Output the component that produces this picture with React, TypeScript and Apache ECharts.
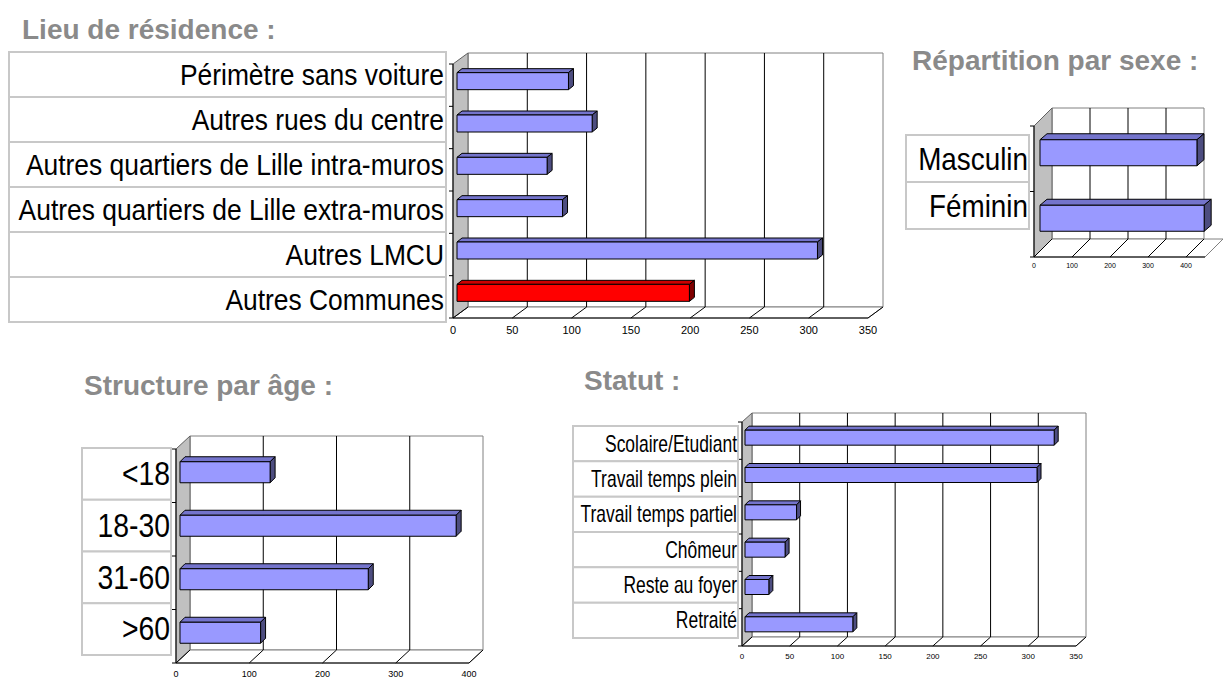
import React, { useEffect, useRef } from "react";
import * as echarts from "echarts";

// ---------- DATA ----------
const residenceCategories = [
  "Périmètre sans voiture",
  "Autres rues du centre",
  "Autres quartiers de Lille intra-muros",
  "Autres quartiers de Lille extra-muros",
  "Autres LMCU",
  "Autres Communes",
];
const residenceValues = [94, 114, 76, 89, 304, 196];
const residenceTicks = [0, 50, 100, 150, 200, 250, 300, 350];

const sexCategories = ["Masculin", "Féminin"];
const sexValues = [413, 432];
const sexTicks = [0, 100, 200, 300, 400];

const ageCategories = ["<18", "18-30", "31-60", ">60"];
const ageValues = [123, 377, 257, 110];
const ageTicks = [0, 100, 200, 300, 400];

const statusCategories = [
  "Scolaire/Etudiant",
  "Travail temps plein",
  "Travail temps partiel",
  "Chômeur",
  "Reste au foyer",
  "Retraité",
];
const statusValues = [324, 306, 54, 42, 25, 113];
const statusTicks = [0, 50, 100, 150, 200, 250, 300, 350];

const titles = [
  "Lieu de résidence :",
  "Répartition par sexe :",
  "Structure par âge :",
  "Statut :",
];
const highlightedCategory = "Autres Communes";

// ---------- LAYOUT / STYLE ----------
const FONT = "'Liberation Sans', Arial, sans-serif";

type Panel = {
  cats: string[];
  values: number[];
  ticks: number[];
  title: string;
  titleX: number;
  titleY: number;
  plot: { left: number; top: number; width: number; height: number };
  max: number;
  interval: number;
  wallMax: number;
  depth: [number, number];
  barOff: [number, number];
  barH: number;
  barDepth: [number, number];
  table: { left: number; top: number; width: number; rowH: number };
  textRight: number;
  fontSize: number;
  scaleX: number;
  tickFont: number;
  tickMargin: number;
};

const panels: Panel[] = [
  {
    cats: residenceCategories,
    values: residenceValues,
    ticks: residenceTicks,
    title: titles[0],
    titleX: 22,
    titleY: 29,
    plot: { left: 453, top: 64, width: 415, height: 254 },
    max: 350,
    interval: 50,
    wallMax: 350,
    depth: [15, -11],
    barOff: [4, -4],
    barH: 17,
    barDepth: [5, -4],
    table: { left: 9, top: 52, width: 437, rowH: 45 },
    textRight: 444,
    fontSize: 30,
    scaleX: 0.88,
    tickFont: 11,
    tickMargin: 6,
  },
  {
    cats: sexCategories,
    values: sexValues,
    ticks: sexTicks,
    title: titles[1],
    titleX: 912,
    titleY: 60,
    plot: { left: 1034, top: 126, width: 171, height: 131 },
    max: 450,
    interval: 100,
    wallMax: 400,
    depth: [18, -18],
    barOff: [6, -6],
    barH: 26,
    barDepth: [7, -6],
    table: { left: 906, top: 135, width: 123, rowH: 47 },
    textRight: 1028,
    fontSize: 32,
    scaleX: 0.87,
    tickFont: 7,
    tickMargin: 5,
  },
  {
    cats: ageCategories,
    values: ageValues,
    ticks: ageTicks,
    title: titles[2],
    titleX: 84,
    titleY: 385,
    plot: { left: 176, top: 449, width: 293, height: 214 },
    max: 400,
    interval: 100,
    wallMax: 400,
    depth: [14, -13],
    barOff: [4, -3.5],
    barH: 21,
    barDepth: [5, -5],
    table: { left: 82, top: 448, width: 89, rowH: 51.75 },
    textRight: 170,
    fontSize: 33,
    scaleX: 0.86,
    tickFont: 9,
    tickMargin: 6,
  },
  {
    cats: statusCategories,
    values: statusValues,
    ticks: statusTicks,
    title: titles[3],
    titleX: 584,
    titleY: 380,
    plot: { left: 742, top: 422, width: 334, height: 224 },
    max: 350,
    interval: 50,
    wallMax: 350,
    depth: [10, -9],
    barOff: [3, -3],
    barH: 15,
    barDepth: [4, -4],
    table: { left: 573, top: 426, width: 165, rowH: 35.33 },
    textRight: 737,
    fontSize: 23,
    scaleX: 0.76,
    tickFont: 8,
    tickMargin: 6,
  },
];

function frameRender(p: Panel) {
  return (params: any, api: any) => {
    const cs = params.coordSys;
    const [dx, dy] = p.depth;
    const x0 = cs.x;
    const y0 = cs.y;
    const yb = cs.y + cs.height;
    const xEnd = cs.x + cs.width;
    const v = api.value(0);
    const xv = api.coord([v, 0])[0];
    const xWall = api.coord([p.wallMax, 0])[0];
    const children: any[] = [];
    if (params.dataIndex === 0) {
      children.push({
        type: "polygon",
        z2: 0,
        shape: { points: [[x0 + dx, y0 + dy], [xWall + dx, y0 + dy], [xWall + dx, yb + dy], [x0 + dx, yb + dy]] },
        style: { fill: "#ffffff", stroke: "#808080", lineWidth: 1 },
      });
      children.push({
        type: "polygon",
        z2: 0,
        shape: { points: [[x0, yb], [x0 + dx, yb + dy], [xEnd + dx, yb + dy], [xEnd, yb]] },
        style: { fill: "#ffffff", stroke: "#808080", lineWidth: 1 },
      });
      children.push({
        type: "polygon",
        z2: 0,
        shape: { points: [[x0, yb], [x0, y0], [x0 + dx, y0 + dy], [x0 + dx, yb + dy]] },
        style: { fill: "#c0c0c0", stroke: "#606060", lineWidth: 1 },
      });
      children.push({
        type: "line",
        z2: 3,
        shape: { x1: x0, y1: y0, x2: x0, y2: yb },
        style: { stroke: "#000000", lineWidth: 1 },
      });
      children.push({
        type: "line",
        z2: 3,
        shape: { x1: x0, y1: yb, x2: xEnd, y2: yb },
        style: { stroke: "#000000", lineWidth: 1 },
      });
      const band = api.size([0, 1])[1];
      for (let k = 0; k <= p.cats.length; k++) {
        const yk = api.coord([0, Math.min(k, p.cats.length - 1)])[1] + (k === p.cats.length ? band / 2 : -band / 2);
        children.push({
          type: "line",
          z2: 3,
          shape: { x1: x0 - 4, y1: yk, x2: x0, y2: yk },
          style: { stroke: "#000000", lineWidth: 1 },
        });
      }
    }
    if (v > 0 && v < p.wallMax) {
      children.push({
        type: "line",
        z2: 2,
        shape: { x1: xv + dx, y1: y0 + dy, x2: xv + dx, y2: yb + dy },
        style: { stroke: "#000000", lineWidth: 1 },
      });
    }
    children.push({
      type: "line",
      z2: 2,
      shape: { x1: xv, y1: yb, x2: xv + dx, y2: yb + dy },
      style: { stroke: "#000000", lineWidth: 1 },
    });
    return { type: "group", children };
  };
}

function barRender(p: Panel) {
  return (params: any, api: any) => {
    const v = api.value(0);
    const c = api.value(1);
    const a = api.coord([0, c]);
    const b = api.coord([v, c]);
    const [ox, oy] = p.barOff;
    const [ddx, ddy] = p.barDepth;
    const h = p.barH;
    const xl = a[0] + ox;
    const xr = b[0] + ox;
    const yc = a[1] + oy;
    const yt = yc - h / 2;
    const ybt = yc + h / 2;
    const red = p.cats[params.dataIndex] === highlightedCategory;
    const face = red ? "#ff0000" : "#9999ff";
    const top = red ? "#cc0000" : "#7474cc";
    const side = red ? "#800000" : "#4d4d80";
    return {
      type: "group",
      children: [
        {
          type: "polygon",
          shape: { points: [[xl, yt], [xl + ddx, yt + ddy], [xr + ddx, yt + ddy], [xr, yt]] },
          style: { fill: top, stroke: "#000000", lineWidth: 1 },
        },
        {
          type: "polygon",
          shape: { points: [[xr, yt], [xr + ddx, yt + ddy], [xr + ddx, ybt + ddy], [xr, ybt]] },
          style: { fill: side, stroke: "#000000", lineWidth: 1 },
        },
        {
          type: "rect",
          shape: { x: xl, y: yt, width: xr - xl, height: h },
          style: { fill: face, stroke: "#000000", lineWidth: 1 },
        },
      ],
    };
  };
}

function tableRender(p: Panel) {
  return (params: any, api: any) => {
    const c = api.value(1);
    const pt = api.coord([0, c]);
    const band = api.size([0, 1])[1];
    const cs = params.coordSys;
    return {
      type: "group",
      children: [
        {
          type: "rect",
          shape: { x: cs.x, y: pt[1] - band / 2, width: cs.width, height: band },
          style: { fill: "#ffffff", stroke: "#c8c8c8", lineWidth: 2 },
        },
        {
          type: "text",
          x: p.textRight,
          y: pt[1],
          scaleX: p.scaleX,
          style: {
            text: p.cats[params.dataIndex],
            x: 0,
            y: 0,
            align: "right",
            verticalAlign: "middle",
            fontSize: p.fontSize,
            fontFamily: FONT,
            fill: "#000000",
          },
        },
      ],
    };
  };
}

function buildOption() {
  const grid: any[] = [];
  const xAxis: any[] = [];
  const yAxis: any[] = [];
  const series: any[] = [];
  const graphic: any[] = [];

  panels.forEach((p, i) => {
    const gi = 2 * i;
    const ti = 2 * i + 1;
    grid.push({ ...p.plot });
    grid.push({
      left: p.table.left,
      top: p.table.top,
      width: p.table.width,
      height: p.table.rowH * p.cats.length,
    });
    xAxis.push({
      type: "value",
      gridIndex: gi,
      min: 0,
      max: p.max,
      interval: p.interval,
      axisLine: { show: false },
      axisTick: { show: false },
      splitLine: { show: false },
      axisLabel: {
        fontSize: p.tickFont,
        fontFamily: FONT,
        color: "#000000",
        margin: p.tickMargin,
        formatter: (val: number) => (p.ticks.includes(val) ? String(val) : ""),
      },
    });
    yAxis.push({ type: "category", gridIndex: gi, data: p.cats, inverse: true, show: false });
    xAxis.push({ type: "value", gridIndex: ti, min: 0, max: 1, show: false });
    yAxis.push({ type: "category", gridIndex: ti, data: p.cats, inverse: true, show: false });

    series.push({
      type: "custom",
      xAxisIndex: gi,
      yAxisIndex: gi,
      z: 1,
      clip: false,
      silent: true,
      data: p.ticks.map((t) => [t, p.cats[0]]),
      renderItem: frameRender(p),
    });
    series.push({
      type: "custom",
      xAxisIndex: gi,
      yAxisIndex: gi,
      z: 3,
      clip: false,
      data: p.values.map((v, j) => [v, p.cats[j]]),
      renderItem: barRender(p),
    });
    series.push({
      type: "custom",
      xAxisIndex: ti,
      yAxisIndex: ti,
      z: 3,
      clip: false,
      data: p.cats.map((c) => [0, c]),
      renderItem: tableRender(p),
    });
    graphic.push({
      type: "text",
      x: p.titleX,
      y: p.titleY,
      style: {
        text: p.title,
        fontSize: 28,
        fontWeight: "bold",
        fontFamily: FONT,
        fill: "#8a8a8a",
        align: "left",
        verticalAlign: "middle",
      },
    });
  });

  return {
    animation: false,
    backgroundColor: "#ffffff",
    grid,
    xAxis,
    yAxis,
    series,
    graphic,
  };
}

export default function App() {
  const ref = useRef<HTMLDivElement>(null);
  useEffect(() => {
    if (!ref.current) return;
    const chart = echarts.init(ref.current, undefined, { renderer: "svg" });
    chart.setOption(buildOption() as any);
    return () => chart.dispose();
  }, []);
  return (
    <div
      ref={ref}
      style={{ position: "fixed", left: 0, top: 0, width: 1223, height: 680, background: "#fff" }}
    />
  );
}
